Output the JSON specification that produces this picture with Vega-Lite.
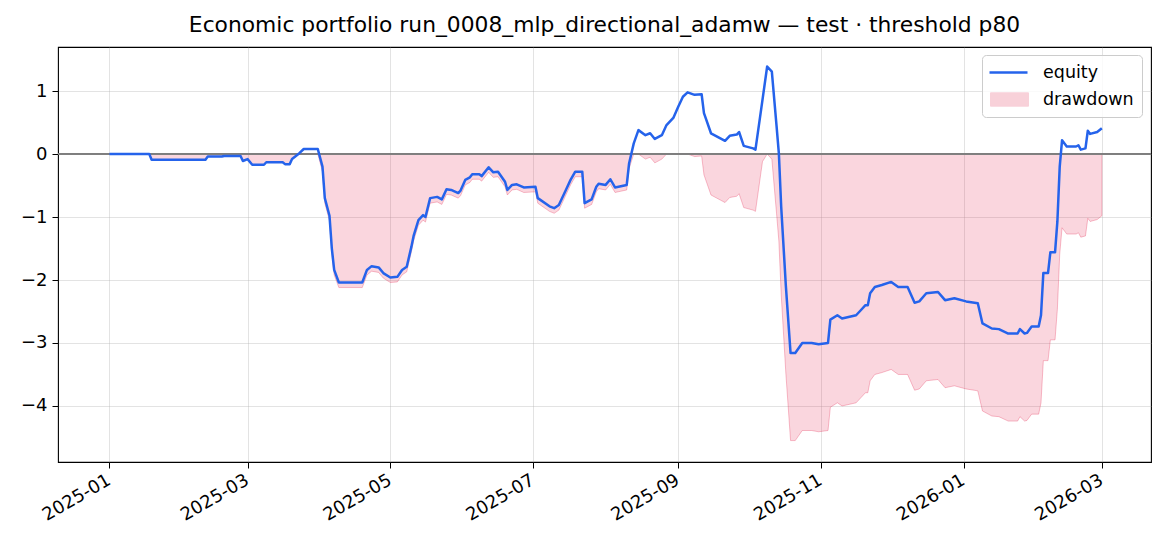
{
  "$schema": "https://vega.github.io/schema/vega-lite/v6.json",
  "width": 1093,
  "height": 415,
  "autosize": {"type": "none"},
  "padding": {"left": 58, "top": 47, "right": 19, "bottom": 84},
  "background": "white",
  "title": {
    "text": "Economic portfolio run_0008_mlp_directional_adamw — test · threshold p80",
    "font": "DejaVu Sans",
    "fontSize": 21.8,
    "fontWeight": "normal",
    "color": "black",
    "anchor": "middle",
    "frame": "group",
    "baseline": "alphabetic",
    "offset": -7
  },
  "config": {
    "font": "DejaVu Sans",
    "view": {"stroke": "black", "strokeWidth": 1.1},
    "axis": {
      "labelFont": "DejaVu Sans",
      "labelFontSize": 18,
      "labelColor": "black",
      "tickColor": "black",
      "tickSize": 6,
      "tickWidth": 1,
      "domain": false,
      "grid": true,
      "gridColor": "#b0b0b0",
      "gridOpacity": 0.35,
      "gridWidth": 1,
      "title": null
    },
    "legend": {
      "labelFont": "DejaVu Sans",
      "labelFontSize": 17.5,
      "labelColor": "black",
      "labelOffset": 33,
      "symbolSize": 361
    }
  },
  "data": {
    "values": [
      {"date": "2025-01-01", "equity": 0.00, "drawdown": 0.00},
      {"date": "2025-01-18", "equity": 0.00, "drawdown": 0.00},
      {"date": "2025-01-19", "equity": -0.09, "drawdown": -0.09},
      {"date": "2025-02-11", "equity": -0.09, "drawdown": -0.09},
      {"date": "2025-02-12", "equity": -0.04, "drawdown": -0.04},
      {"date": "2025-02-18", "equity": -0.04, "drawdown": -0.04},
      {"date": "2025-02-19", "equity": -0.03, "drawdown": -0.03},
      {"date": "2025-02-26", "equity": -0.03, "drawdown": -0.03},
      {"date": "2025-02-27", "equity": -0.11, "drawdown": -0.11},
      {"date": "2025-03-01", "equity": -0.08, "drawdown": -0.08},
      {"date": "2025-03-03", "equity": -0.17, "drawdown": -0.17},
      {"date": "2025-03-08", "equity": -0.17, "drawdown": -0.17},
      {"date": "2025-03-09", "equity": -0.13, "drawdown": -0.13},
      {"date": "2025-03-16", "equity": -0.13, "drawdown": -0.13},
      {"date": "2025-03-17", "equity": -0.16, "drawdown": -0.16},
      {"date": "2025-03-19", "equity": -0.16, "drawdown": -0.16},
      {"date": "2025-03-20", "equity": -0.08, "drawdown": -0.08},
      {"date": "2025-03-23", "equity": 0.01, "drawdown": 0.00},
      {"date": "2025-03-25", "equity": 0.08, "drawdown": 0.00},
      {"date": "2025-03-31", "equity": 0.08, "drawdown": 0.00},
      {"date": "2025-04-02", "equity": -0.20, "drawdown": -0.28},
      {"date": "2025-04-03", "equity": -0.70, "drawdown": -0.78},
      {"date": "2025-04-05", "equity": -0.98, "drawdown": -1.06},
      {"date": "2025-04-06", "equity": -1.50, "drawdown": -1.58},
      {"date": "2025-04-07", "equity": -1.84, "drawdown": -1.92},
      {"date": "2025-04-09", "equity": -2.04, "drawdown": -2.12},
      {"date": "2025-04-19", "equity": -2.04, "drawdown": -2.12},
      {"date": "2025-04-21", "equity": -1.84, "drawdown": -1.92},
      {"date": "2025-04-23", "equity": -1.78, "drawdown": -1.86},
      {"date": "2025-04-26", "equity": -1.80, "drawdown": -1.88},
      {"date": "2025-04-28", "equity": -1.89, "drawdown": -1.97},
      {"date": "2025-05-01", "equity": -1.96, "drawdown": -2.04},
      {"date": "2025-05-04", "equity": -1.95, "drawdown": -2.03},
      {"date": "2025-05-06", "equity": -1.84, "drawdown": -1.92},
      {"date": "2025-05-08", "equity": -1.79, "drawdown": -1.87},
      {"date": "2025-05-10", "equity": -1.47, "drawdown": -1.55},
      {"date": "2025-05-11", "equity": -1.29, "drawdown": -1.37},
      {"date": "2025-05-13", "equity": -1.05, "drawdown": -1.13},
      {"date": "2025-05-15", "equity": -0.97, "drawdown": -1.05},
      {"date": "2025-05-16", "equity": -1.00, "drawdown": -1.08},
      {"date": "2025-05-18", "equity": -0.70, "drawdown": -0.78},
      {"date": "2025-05-21", "equity": -0.68, "drawdown": -0.76},
      {"date": "2025-05-23", "equity": -0.72, "drawdown": -0.80},
      {"date": "2025-05-25", "equity": -0.56, "drawdown": -0.64},
      {"date": "2025-05-27", "equity": -0.57, "drawdown": -0.65},
      {"date": "2025-05-30", "equity": -0.62, "drawdown": -0.70},
      {"date": "2025-05-31", "equity": -0.58, "drawdown": -0.66},
      {"date": "2025-06-02", "equity": -0.41, "drawdown": -0.49},
      {"date": "2025-06-04", "equity": -0.37, "drawdown": -0.45},
      {"date": "2025-06-05", "equity": -0.32, "drawdown": -0.40},
      {"date": "2025-06-08", "equity": -0.32, "drawdown": -0.40},
      {"date": "2025-06-09", "equity": -0.35, "drawdown": -0.43},
      {"date": "2025-06-12", "equity": -0.21, "drawdown": -0.29},
      {"date": "2025-06-14", "equity": -0.29, "drawdown": -0.37},
      {"date": "2025-06-16", "equity": -0.28, "drawdown": -0.36},
      {"date": "2025-06-19", "equity": -0.44, "drawdown": -0.52},
      {"date": "2025-06-20", "equity": -0.57, "drawdown": -0.65},
      {"date": "2025-06-22", "equity": -0.49, "drawdown": -0.57},
      {"date": "2025-06-24", "equity": -0.48, "drawdown": -0.56},
      {"date": "2025-06-27", "equity": -0.53, "drawdown": -0.61},
      {"date": "2025-07-02", "equity": -0.52, "drawdown": -0.60},
      {"date": "2025-07-03", "equity": -0.70, "drawdown": -0.78},
      {"date": "2025-07-08", "equity": -0.83, "drawdown": -0.91},
      {"date": "2025-07-10", "equity": -0.86, "drawdown": -0.94},
      {"date": "2025-07-12", "equity": -0.81, "drawdown": -0.89},
      {"date": "2025-07-15", "equity": -0.57, "drawdown": -0.65},
      {"date": "2025-07-17", "equity": -0.41, "drawdown": -0.49},
      {"date": "2025-07-19", "equity": -0.28, "drawdown": -0.36},
      {"date": "2025-07-22", "equity": -0.28, "drawdown": -0.36},
      {"date": "2025-07-23", "equity": -0.78, "drawdown": -0.86},
      {"date": "2025-07-26", "equity": -0.72, "drawdown": -0.80},
      {"date": "2025-07-28", "equity": -0.52, "drawdown": -0.60},
      {"date": "2025-07-29", "equity": -0.47, "drawdown": -0.55},
      {"date": "2025-08-01", "equity": -0.49, "drawdown": -0.57},
      {"date": "2025-08-03", "equity": -0.40, "drawdown": -0.48},
      {"date": "2025-08-05", "equity": -0.53, "drawdown": -0.61},
      {"date": "2025-08-10", "equity": -0.49, "drawdown": -0.57},
      {"date": "2025-08-11", "equity": -0.15, "drawdown": -0.23},
      {"date": "2025-08-13", "equity": 0.17, "drawdown": 0.00},
      {"date": "2025-08-15", "equity": 0.38, "drawdown": 0.00},
      {"date": "2025-08-18", "equity": 0.30, "drawdown": -0.08},
      {"date": "2025-08-20", "equity": 0.33, "drawdown": -0.05},
      {"date": "2025-08-22", "equity": 0.24, "drawdown": -0.14},
      {"date": "2025-08-25", "equity": 0.30, "drawdown": -0.08},
      {"date": "2025-08-27", "equity": 0.46, "drawdown": 0.00},
      {"date": "2025-08-30", "equity": 0.58, "drawdown": 0.00},
      {"date": "2025-09-01", "equity": 0.75, "drawdown": 0.00},
      {"date": "2025-09-03", "equity": 0.91, "drawdown": 0.00},
      {"date": "2025-09-05", "equity": 0.98, "drawdown": 0.00},
      {"date": "2025-09-08", "equity": 0.94, "drawdown": -0.04},
      {"date": "2025-09-11", "equity": 0.95, "drawdown": -0.03},
      {"date": "2025-09-12", "equity": 0.65, "drawdown": -0.33},
      {"date": "2025-09-15", "equity": 0.33, "drawdown": -0.65},
      {"date": "2025-09-18", "equity": 0.27, "drawdown": -0.71},
      {"date": "2025-09-21", "equity": 0.21, "drawdown": -0.77},
      {"date": "2025-09-23", "equity": 0.29, "drawdown": -0.69},
      {"date": "2025-09-26", "equity": 0.31, "drawdown": -0.67},
      {"date": "2025-09-27", "equity": 0.35, "drawdown": -0.63},
      {"date": "2025-09-29", "equity": 0.13, "drawdown": -0.85},
      {"date": "2025-10-03", "equity": 0.09, "drawdown": -0.89},
      {"date": "2025-10-04", "equity": 0.07, "drawdown": -0.91},
      {"date": "2025-10-07", "equity": 0.86, "drawdown": -0.12},
      {"date": "2025-10-09", "equity": 1.39, "drawdown": 0.00},
      {"date": "2025-10-11", "equity": 1.31, "drawdown": -0.08},
      {"date": "2025-10-13", "equity": 0.45, "drawdown": -0.94},
      {"date": "2025-10-14", "equity": 0.01, "drawdown": -1.38},
      {"date": "2025-10-15", "equity": -0.84, "drawdown": -2.23},
      {"date": "2025-10-17", "equity": -2.10, "drawdown": -3.49},
      {"date": "2025-10-19", "equity": -3.16, "drawdown": -4.55},
      {"date": "2025-10-21", "equity": -3.16, "drawdown": -4.55},
      {"date": "2025-10-24", "equity": -3.00, "drawdown": -4.39},
      {"date": "2025-10-28", "equity": -3.00, "drawdown": -4.39},
      {"date": "2025-10-31", "equity": -3.02, "drawdown": -4.41},
      {"date": "2025-11-04", "equity": -3.00, "drawdown": -4.39},
      {"date": "2025-11-05", "equity": -2.63, "drawdown": -4.02},
      {"date": "2025-11-08", "equity": -2.56, "drawdown": -3.95},
      {"date": "2025-11-10", "equity": -2.61, "drawdown": -4.00},
      {"date": "2025-11-16", "equity": -2.56, "drawdown": -3.95},
      {"date": "2025-11-18", "equity": -2.48, "drawdown": -3.87},
      {"date": "2025-11-20", "equity": -2.40, "drawdown": -3.79},
      {"date": "2025-11-21", "equity": -2.40, "drawdown": -3.79},
      {"date": "2025-11-22", "equity": -2.21, "drawdown": -3.60},
      {"date": "2025-11-24", "equity": -2.11, "drawdown": -3.50},
      {"date": "2025-11-27", "equity": -2.08, "drawdown": -3.47},
      {"date": "2025-12-01", "equity": -2.03, "drawdown": -3.42},
      {"date": "2025-12-04", "equity": -2.11, "drawdown": -3.50},
      {"date": "2025-12-08", "equity": -2.11, "drawdown": -3.50},
      {"date": "2025-12-11", "equity": -2.36, "drawdown": -3.75},
      {"date": "2025-12-13", "equity": -2.34, "drawdown": -3.73},
      {"date": "2025-12-16", "equity": -2.21, "drawdown": -3.60},
      {"date": "2025-12-21", "equity": -2.19, "drawdown": -3.58},
      {"date": "2025-12-24", "equity": -2.32, "drawdown": -3.71},
      {"date": "2025-12-28", "equity": -2.29, "drawdown": -3.68},
      {"date": "2026-01-02", "equity": -2.34, "drawdown": -3.73},
      {"date": "2026-01-07", "equity": -2.37, "drawdown": -3.76},
      {"date": "2026-01-09", "equity": -2.69, "drawdown": -4.08},
      {"date": "2026-01-13", "equity": -2.77, "drawdown": -4.16},
      {"date": "2026-01-16", "equity": -2.78, "drawdown": -4.17},
      {"date": "2026-01-20", "equity": -2.85, "drawdown": -4.24},
      {"date": "2026-01-24", "equity": -2.85, "drawdown": -4.24},
      {"date": "2026-01-25", "equity": -2.78, "drawdown": -4.17},
      {"date": "2026-01-27", "equity": -2.85, "drawdown": -4.24},
      {"date": "2026-01-28", "equity": -2.84, "drawdown": -4.23},
      {"date": "2026-01-30", "equity": -2.74, "drawdown": -4.13},
      {"date": "2026-02-02", "equity": -2.74, "drawdown": -4.13},
      {"date": "2026-02-03", "equity": -2.56, "drawdown": -3.95},
      {"date": "2026-02-04", "equity": -1.89, "drawdown": -3.28},
      {"date": "2026-02-06", "equity": -1.89, "drawdown": -3.28},
      {"date": "2026-02-07", "equity": -1.56, "drawdown": -2.95},
      {"date": "2026-02-09", "equity": -1.56, "drawdown": -2.95},
      {"date": "2026-02-10", "equity": -1.07, "drawdown": -2.46},
      {"date": "2026-02-11", "equity": -0.20, "drawdown": -1.59},
      {"date": "2026-02-12", "equity": 0.22, "drawdown": -1.17},
      {"date": "2026-02-14", "equity": 0.12, "drawdown": -1.27},
      {"date": "2026-02-18", "equity": 0.12, "drawdown": -1.27},
      {"date": "2026-02-19", "equity": 0.14, "drawdown": -1.25},
      {"date": "2026-02-20", "equity": 0.07, "drawdown": -1.32},
      {"date": "2026-02-22", "equity": 0.09, "drawdown": -1.30},
      {"date": "2026-02-23", "equity": 0.37, "drawdown": -1.02},
      {"date": "2026-02-24", "equity": 0.32, "drawdown": -1.07},
      {"date": "2026-02-27", "equity": 0.35, "drawdown": -1.04},
      {"date": "2026-03-01", "equity": 0.41, "drawdown": -0.98}
    ]
  },
  "transform": [{"fold": ["equity", "drawdown"], "as": ["series", "value"]}],
  "resolve": {"scale": {"color": "independent"}},
  "layer": [
    {
      "transform": [{"filter": "datum.series === 'drawdown'"}],
      "mark": {
        "type": "area",
        "fillOpacity": 0.18,
        "stroke": "#e11d48",
        "strokeOpacity": 0.28,
        "strokeWidth": 1
      },
      "encoding": {
        "x": {
          "field": "date",
          "type": "temporal",
          "scale": {
            "type": "utc",
            "nice": false,
            "domain": [
              {"year": 2024, "month": 12, "date": 10, "utc": true},
              {"year": 2026, "month": 3, "date": 22, "utc": true}
            ]
          },
          "axis": {
            "values": [
              {"year": 2025, "month": 1, "date": 1, "utc": true},
              {"year": 2025, "month": 3, "date": 1, "utc": true},
              {"year": 2025, "month": 5, "date": 1, "utc": true},
              {"year": 2025, "month": 7, "date": 1, "utc": true},
              {"year": 2025, "month": 9, "date": 1, "utc": true},
              {"year": 2025, "month": 11, "date": 1, "utc": true},
              {"year": 2026, "month": 1, "date": 1, "utc": true},
              {"year": 2026, "month": 3, "date": 1, "utc": true}
            ],
            "format": "%Y-%m",
            "labelAngle": -30,
            "labelAlign": "right",
            "labelBaseline": "top",
            "labelPadding": 3,
            "labelOffset": -5
          }
        },
        "y": {
          "field": "value",
          "type": "quantitative",
          "scale": {"domain": [-4.89, 1.70], "nice": false, "zero": false},
          "axis": {"values": [-4, -3, -2, -1, 0, 1], "format": "d", "labelPadding": 5}
        },
        "y2": {"datum": 0},
        "color": {
          "field": "series",
          "type": "nominal",
          "scale": {"domain": ["drawdown"], "range": ["#e11d48"]},
          "legend": {
            "title": " ",
            "titleFontSize": 18,
            "titlePadding": 8.5,
            "orient": "none",
            "legendX": 924,
            "legendY": 8,
            "padding": 8,
            "strokeColor": "#cccccc",
            "fillColor": "rgba(255,255,255,0.8)",
            "cornerRadius": 4,
            "symbolType": "M-1,-0.7H3V0.7H-1Z",
            "symbolOpacity": 0.2,
            "symbolStrokeWidth": 1
          }
        }
      }
    },
    {
      "mark": {"type": "rule", "color": "#808080", "opacity": 0.6, "strokeWidth": 1},
      "encoding": {"y": {"datum": 0}}
    },
    {
      "transform": [{"filter": "datum.series === 'equity'"}],
      "mark": {"type": "line", "strokeWidth": 2.5, "strokeJoin": "round"},
      "encoding": {
        "x": {"field": "date", "type": "temporal"},
        "y": {"field": "value", "type": "quantitative"},
        "color": {
          "field": "series",
          "type": "nominal",
          "scale": {"domain": ["equity"], "range": ["#2563eb"]},
          "legend": {
            "title": null,
            "orient": "none",
            "legendX": 930,
            "legendY": 14.5,
            "padding": 0,
            "symbolType": "M-1,0H3",
            "symbolStrokeWidth": 2.5
          }
        }
      }
    }
  ]
}
